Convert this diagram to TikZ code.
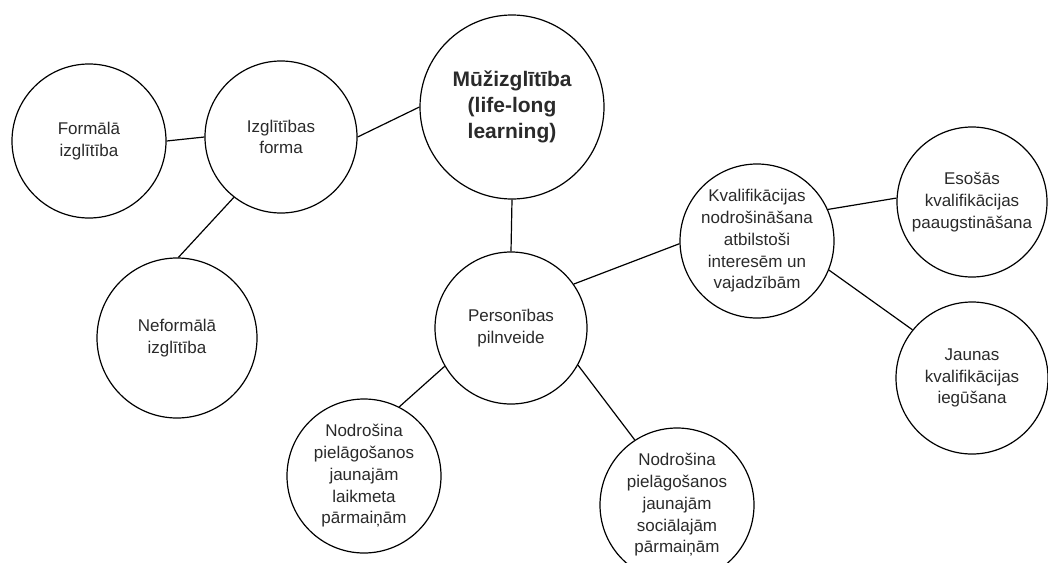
\documentclass[tikz,border=0pt]{standalone}
\usepackage{fontspec}
\setmainfont{Liberation Sans}
\definecolor{txtgray}{HTML}{2A2A2A}
\begin{document}
\begin{tikzpicture}[x=1pt,y=-1pt,
  bub/.style={circle,draw=black,line width=1.2pt,inner sep=0pt,align=center,
    text=txtgray,font=\fontsize{17}{21.7}\selectfont},
  hub/.style={bub,font=\bfseries\fontsize{21}{26}\selectfont},
  link/.style={draw=black,line width=1.2pt}]
\useasboundingbox (0,0) rectangle (1048,562);

% central concept
\node[hub,minimum size=184] (mz) at (512,107) {Mūžizglītība\\(life-long\\learning)};

% form of education branch
\node[bub,minimum size=152] (izf) at (281,137) {Izglītības\\forma};
\node[bub,minimum size=154] (form) at (89,141) {Formālā\\izglītība};
\node[bub,minimum size=160] (nef) at (177,338) {Neformālā\\izglītība};

% personal development branch
\node[bub,minimum size=152] (pers) at (511,328) {Personības\\pilnveide};
\node[bub,minimum size=154] (kv) at (757,241) {Kvalifikācijas\\nodrošināšana\\atbilstoši\\interesēm un\\vajadzībām};
\node[bub,minimum size=150] (eso) at (972,202) {Esošās\\kvalifikācijas\\paaugstināšana};
\node[bub,minimum size=152] (jau) at (972,378) {Jaunas\\kvalifikācijas\\iegūšana};
\node[bub,minimum size=154] (nlk) at (364,476) {Nodrošina\\pielāgošanos\\jaunajām\\laikmeta\\pārmaiņām};
\node[bub,minimum size=154] (nsoc) at (677,505) {Nodrošina\\pielāgošanos\\jaunajām\\sociālajām\\pārmaiņām};

% connectors
\draw[link] (form.east) -- (izf.west);
\draw[link] (izf.east) -- (mz.west);
\draw[link] (izf.232) -- (nef.89);
\draw[link] (mz.south) -- (pers.north);
\draw[link] (pers.35) -- (kv.182);
\draw[link] (kv.24) -- (eso.177);
\draw[link] (kv.338) -- (jau.141);
\draw[link] (pers.210) -- (nlk.63);
\draw[link] (pers.331) -- (nsoc.123);
\end{tikzpicture}
\end{document}
